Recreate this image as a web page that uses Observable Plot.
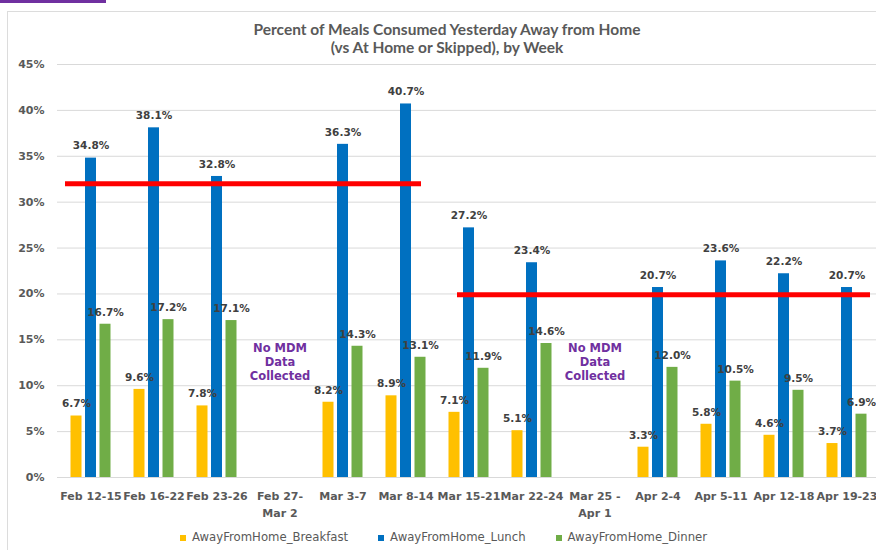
<!DOCTYPE html>
<html>
<head>
<meta charset="utf-8">
<script src="https://cdn.jsdelivr.net/npm/d3@7"></script>
<script src="https://cdn.jsdelivr.net/npm/@observablehq/plot@0.6"></script>
<style>
  html, body { margin: 0; padding: 0; background: #fff; }
  #wrap { position: relative; width: 876px; height: 550px; overflow: hidden; background: #fff; }
  #frame { position: absolute; left: 7px; top: 11px; width: 900px; height: 600px; border: 1px solid #dcdcdc; box-sizing: border-box; }
  #strip { position: absolute; left: 0; top: 0; width: 106px; height: 3px; background: #7030a0; }
  #title { position: absolute; left: 0; top: 20px; width: 894px; text-align: center; font-family: Lato, sans-serif; font-weight: bold; font-size: 15.5px; line-height: 18px; color: #595959; }
  #chart { position: absolute; left: 0; top: 0; }
  #legend { position: absolute; left: 180px; top: 530px; display: flex; gap: 30px; font-family: "DejaVu Sans", sans-serif; font-size: 11.7px; color: #595959; line-height: 15px; }
  .item { display: flex; align-items: center; gap: 6px; }
  .sw { width: 6px; height: 6px; display: inline-block; }
</style>
</head>
<body>
<div id="wrap">
  <div id="frame"></div>
  <div id="strip"></div>
  <div id="chart"></div>
  <div id="title">Percent of Meals Consumed Yesterday Away from Home<br>(vs At Home or Skipped), by Week</div>
  <div id="legend"></div>
</div>
<script>
// ---- data ----
const categories = ["Feb 12-15", "Feb 16-22", "Feb 23-26", "Feb 27-\nMar 2", "Mar 3-7", "Mar 8-14", "Mar 15-21", "Mar 22-24", "Mar 25 -\nApr 1", "Apr 2-4", "Apr 5-11", "Apr 12-18", "Apr 19-23"];
const breakfast = [6.7, 9.6, 7.8, null, 8.2, 8.9, 7.1, 5.1, null, 3.3, 5.8, 4.6, 3.7];
const lunch     = [34.8, 38.1, 32.8, null, 36.3, 40.7, 27.2, 23.4, null, 20.7, 23.6, 22.2, 20.7];
const dinner    = [16.7, 17.2, 17.1, null, 14.3, 13.1, 11.9, 14.6, null, 12.0, 10.5, 9.5, 6.9];
const seriesNames = ["AwayFromHome_Breakfast", "AwayFromHome_Lunch", "AwayFromHome_Dinner"];
const seriesColors = ["#FFC000", "#0070C0", "#70AD47"];
const yTicks = [0, 5, 10, 15, 20, 25, 30, 35, 40, 45];
const noDataNotes = [
  {cat: "Feb 27-\nMar 2", y: 12.6, text: "No MDM\nData\nCollected"},
  {cat: "Mar 25 -\nApr 1", y: 12.6, text: "No MDM\nData\nCollected"}
];
const refLine1 = [{y: 32.0, from: "Feb 12-15", to: "Mar 8-14"}];
const refLine2 = [{y: 19.9, from: "Mar 15-21", to: "Apr 19-23"}];

// ---- table ----
const table = categories.map((c, i) => ({cat: c, b: breakfast[i], l: lunch[i], d: dinner[i]}));
const valued = (key) => table.filter(r => r[key] != null);
const fmt = (v) => v.toFixed(1) + "%";

const offsets = [-14.5, 0, 14.5];
const keys = ["b", "l", "d"];
const barInset = 26;

const marks = [
  Plot.gridY(yTicks, {stroke: "#d9d9d9", strokeOpacity: 1, strokeWidth: 1}),
  Plot.axisY({ticks: yTicks, tickSize: 0, tickPadding: 13, tickFormat: d => d + "%", label: null, fontSize: 11}),
  Plot.axisX({tickSize: 0, tickPadding: 10, label: null, fontSize: 11, lineHeight: 1.55})
];
keys.forEach((k, j) => {
  marks.push(Plot.barY(valued(k), {x: "cat", y: k, fill: seriesColors[j], dx: offsets[j], insetLeft: barInset, insetRight: barInset}));
});
keys.forEach((k, j) => {
  marks.push(Plot.text(valued(k), {x: "cat", y: k, text: d => fmt(d[k]), dx: offsets[j], dy: -12, fill: "#404040", fontSize: 10.5, fontWeight: "bold"}));
});
marks.push(Plot.text(noDataNotes, {x: "cat", y: "y", text: "text", fill: "#7030a0", fontSize: 11.5, fontWeight: "bold", lineHeight: 1.22}));
marks.push(Plot.ruleY(refLine1, {y: "y", x1: "from", x2: "to", stroke: "#ff0000", strokeWidth: 5, insetLeft: 6, insetRight: 16}));
marks.push(Plot.ruleY(refLine2, {y: "y", x1: "from", x2: "to", stroke: "#ff0000", strokeWidth: 5, insetLeft: 20, insetRight: 8}));

const chart = Plot.plot({
  width: 876,
  height: 520,
  marginTop: 64,
  marginBottom: 43,
  marginLeft: 57,
  marginRight: -4,
  style: {fontFamily: "DejaVu Sans, sans-serif", fontWeight: "bold", color: "#595959", background: "transparent", overflow: "hidden"},
  x: {type: "band", domain: categories, padding: 0},
  y: {domain: [0, 45]},
  marks
});
document.getElementById("chart").appendChild(chart);

// ---- legend ----
const legend = document.getElementById("legend");
seriesNames.forEach((name, i) => {
  const it = document.createElement("div");
  it.className = "item";
  const sw = document.createElement("span");
  sw.className = "sw";
  sw.style.background = seriesColors[i];
  const t = document.createElement("span");
  t.textContent = name;
  it.appendChild(sw);
  it.appendChild(t);
  legend.appendChild(it);
});
</script>
</body>
</html>
